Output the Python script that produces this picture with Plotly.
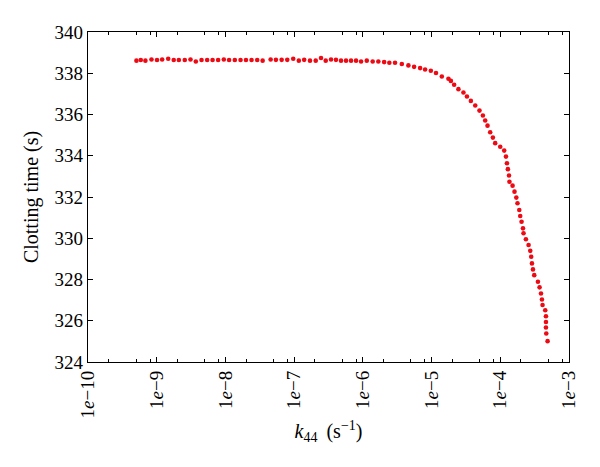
import plotly.graph_objects as go

# k44 values (s^-1), one per dot
k44 = [
    5.07e-10, 5.86e-10, 6.85e-10, 8.39e-10, 1.01e-9, 1.20e-9, 1.47e-9, 1.77e-9,
    2.10e-9, 2.56e-9, 3.10e-9, 3.71e-9, 4.49e-9, 5.42e-9, 6.50e-9, 7.83e-9,
    9.48e-9, 1.13e-8, 1.37e-8, 1.66e-8, 1.99e-8, 2.40e-8, 2.90e-8, 3.48e-8,
    4.55e-8,
    5.43e-8, 6.58e-8, 7.94e-8, 9.70e-8, 1.17e-7, 1.40e-7, 1.70e-7, 2.06e-7,
    2.46e-7, 2.88e-7, 3.44e-7, 4.06e-7, 4.81e-7, 5.69e-7, 6.73e-7, 7.96e-7,
    9.42e-7, 1.14e-6, 1.39e-6, 1.68e-6, 2.04e-6, 2.43e-6, 2.94e-6,
    3.69e-6, 4.60e-6, 5.57e-6, 6.81e-6, 8.05e-6, 9.75e-6, 1.16e-5, 1.41e-5,
    1.76e-5, 1.91e-5, 2.13e-5, 2.46e-5, 2.91e-5, 3.27e-5, 3.73e-5, 4.32e-5,
    4.98e-5, 5.58e-5, 6.03e-5, 6.52e-5, 7.13e-5, 7.80e-5,
    8.43e-5, 9.98e-5, 1.14e-4, 1.21e-4, 1.25e-4, 1.29e-4, 1.34e-4, 1.36e-4,
    1.51e-4, 1.61e-4, 1.71e-4, 1.78e-4, 1.89e-4, 1.95e-4, 2.04e-4, 2.14e-4,
    2.18e-4, 2.36e-4, 2.58e-4, 2.73e-4, 2.82e-4, 2.89e-4, 2.99e-4, 3.12e-4,
    3.53e-4, 3.73e-4, 3.91e-4, 4.04e-4, 4.12e-4, 4.51e-4, 4.62e-4, 4.62e-4,
    4.62e-4, 4.67e-4, 4.88e-4,
]

# Clotting time (s) for each dot
clotting_time = [
    338.61, 338.64, 338.61, 338.67, 338.64, 338.67, 338.70, 338.64,
    338.64, 338.64, 338.67, 338.57, 338.64, 338.64, 338.64, 338.64,
    338.67, 338.64, 338.64, 338.64, 338.64, 338.64, 338.64, 338.61,
    338.67,
    338.65, 338.65, 338.65, 338.70, 338.61, 338.65, 338.61, 338.61,
    338.74, 338.61, 338.67, 338.65, 338.61, 338.61, 338.61, 338.61,
    338.57, 338.61, 338.57, 338.57, 338.54, 338.51, 338.51,
    338.45, 338.38, 338.31, 338.25, 338.18, 338.12, 338.01, 337.84,
    337.73, 337.63, 337.44, 337.23, 337.07, 336.87, 336.66, 336.44,
    336.19, 335.95, 335.71, 335.46, 335.14, 334.88,
    334.61, 334.44, 334.25, 333.96, 333.64, 333.35, 333.04, 332.74,
    332.55, 332.26, 331.97, 331.70, 331.37, 331.08, 330.80, 330.48,
    330.24, 329.95, 329.67, 329.39, 329.10, 328.78, 328.49, 328.21,
    327.89, 327.62, 327.32, 327.03, 326.76, 326.51, 326.22, 325.94,
    325.67, 325.38, 325.01,
]

x_tick_vals = [1e-10, 1e-9, 1e-8, 1e-7, 1e-6, 1e-5, 1e-4, 1e-3]
x_tick_text = ["1<i>e</i>\u221210", "1<i>e</i>\u22129", "1<i>e</i>\u22128",
               "1<i>e</i>\u22127", "1<i>e</i>\u22126", "1<i>e</i>\u22125",
               "1<i>e</i>\u22124", "1<i>e</i>\u22123"]
x_minor_vals = [m * d for d in [1e-10, 1e-9, 1e-8, 1e-7, 1e-6, 1e-5, 1e-4]
                for m in (2, 5, 8)]
y_tick_vals = [324, 326, 328, 330, 332, 334, 336, 338, 340]

FONT = "Liberation Serif"

fig = go.Figure()
fig.add_trace(go.Scatter(
    x=k44, y=clotting_time, mode="markers",
    marker=dict(color="#ec0a14", size=4.6, line=dict(width=0)),
    showlegend=False,
))

axis_common = dict(
    showline=True, linecolor="black", linewidth=1.3, mirror="ticks",
    ticks="inside", ticklen=5, tickwidth=1.2, tickcolor="black",
    showgrid=False, zeroline=False, automargin=True,
    tickfont=dict(family=FONT, size=19, color="black"),
)

# page body keeps an 8px margin, so the figure is sized to fit the window
fig.update_layout(
    width=592, height=459,
    margin=dict(l=80, r=31, t=24, b=105),
    paper_bgcolor="white", plot_bgcolor="white",
    font=dict(family=FONT, color="black"),
    xaxis=dict(
        type="log", range=[-10, -3],
        tickmode="array", tickvals=x_tick_vals, ticktext=x_tick_text,
        tickangle=-90,
        minor=dict(tickmode="array", tickvals=x_minor_vals, ticks="inside",
                   ticklen=3, tickwidth=1, tickcolor="black"),
        title=dict(text="<i>k</i><sub>44</sub>\u2009 (s<sup>\u22121</sup>)",
                   font=dict(family=FONT, size=20, color="black"), standoff=6),
        **axis_common,
    ),
    yaxis=dict(
        range=[324, 340], tickmode="array", tickvals=y_tick_vals,
        title=dict(text="Clotting time (s)",
                   font=dict(family=FONT, size=20, color="black"), standoff=10),
        **axis_common,
    ),
)

fig.write_html("out.html")
